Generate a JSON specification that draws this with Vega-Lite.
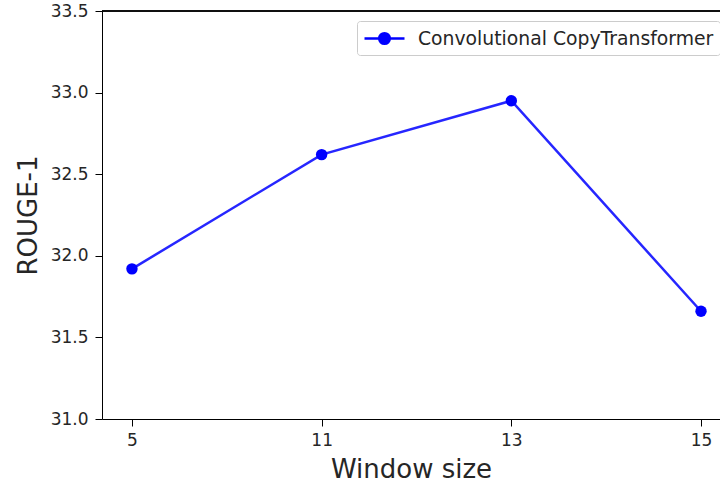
{
  "$schema": "https://vega.github.io/schema/vega-lite/v6.json",
  "width": 618,
  "height": 408,
  "autosize": {"type": "none"},
  "padding": {"left": 102, "top": 11, "right": 0, "bottom": 69},
  "background": "white",
  "config": {
    "view": {"stroke": null},
    "font": "DejaVu Sans",
    "axis": {
      "domainColor": "black",
      "domainWidth": 1,
      "tickColor": "black",
      "tickSize": 7,
      "tickWidth": 1,
      "labelFont": "DejaVu Sans",
      "labelFontSize": 17,
      "labelColor": "#262626",
      "titleFont": "DejaVu Sans",
      "titleFontSize": 26,
      "titleFontWeight": "normal",
      "titleColor": "#262626",
      "grid": false
    }
  },
  "data": {
    "values": [
      {"window": "5", "rouge": 31.92, "model": "Convolutional CopyTransformer"},
      {"window": "11", "rouge": 32.62, "model": "Convolutional CopyTransformer"},
      {"window": "13", "rouge": 32.95, "model": "Convolutional CopyTransformer"},
      {"window": "15", "rouge": 31.66, "model": "Convolutional CopyTransformer"}
    ]
  },
  "layer": [
    {
      "mark": {"type": "line", "strokeWidth": 2.5, "opacity": 0.85},
      "encoding": {
        "x": {
          "field": "window", "type": "ordinal", "sort": ["5", "11", "13", "15"],
          "scale": {"type": "point", "padding": 0.129, "align": 0.612},
          "axis": {"title": "Window size", "labelAngle": 0, "labelPadding": 6, "titlePadding": 8}
        },
        "y": {
          "field": "rouge", "type": "quantitative",
          "scale": {"domain": [31, 33.5], "nice": false, "zero": false},
          "axis": {"title": "ROUGE-1", "values": [31, 31.5, 32, 32.5, 33, 33.5], "format": ".1f", "labelPadding": 7, "titlePadding": 9}
        },
        "color": {
          "field": "model", "type": "nominal",
          "scale": {"range": ["#0000ff"]},
          "legend": {
            "title": null,
            "orient": "none",
            "legendX": 255,
            "legendY": 10,
            "labelFontSize": 18.8,
            "labelColor": "#262626",
            "labelLimit": 500,
            "labelOffset": 22,
            "symbolOffset": 10,
            "symbolType": "M-2,0H2M-0.53,0A0.53,0.53,0,1,1,0.53,0A0.53,0.53,0,1,1,-0.53,0Z",
            "symbolSize": 400,
            "symbolStrokeWidth": 2.5,
            "symbolFillColor": "#0000ff",
            "symbolStrokeColor": "#0000ff",
            "symbolOpacity": 1,
            "strokeColor": "#cccccc",
            "fillColor": "white",
            "cornerRadius": 3,
            "padding": 6
          }
        }
      }
    },
    {
      "mark": {"type": "point", "filled": true, "size": 130, "opacity": 1, "color": "#0000ff"},
      "encoding": {
        "x": {"field": "window", "type": "ordinal", "sort": ["5", "11", "13", "15"]},
        "y": {"field": "rouge", "type": "quantitative"}
      }
    },
    {
      "mark": {"type": "rule", "color": "black", "strokeWidth": 1},
      "encoding": {"y": {"datum": 33.5}}
    }
  ]
}
